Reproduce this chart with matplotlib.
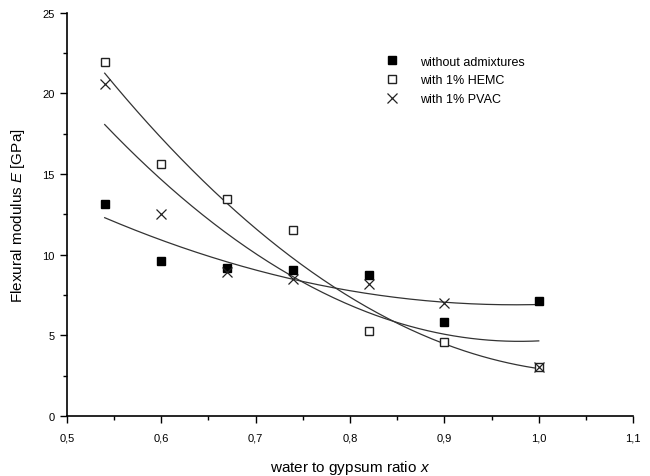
import numpy as np
import matplotlib
matplotlib.use("Agg")
import matplotlib.pyplot as plt
from matplotlib.ticker import MultipleLocator, FuncFormatter

plt.rcParams['font.family'] = ['Liberation Sans', 'DejaVu Sans']
plt.rcParams['mathtext.fontset'] = 'custom'
plt.rcParams['mathtext.rm'] = 'Liberation Sans'
plt.rcParams['mathtext.it'] = 'Liberation Sans:italic'

x_ratio = [0.54, 0.60, 0.67, 0.74, 0.82, 0.90, 1.00]
without_adm = [13.15, 9.6, 9.2, 9.05, 8.75, 5.85, 7.15]
hemc = [21.95, 15.65, 13.45, 11.55, 5.25, 4.6, 3.05]
pvac = [20.6, 12.5, 8.9, 8.5, 8.2, 7.0, 3.05]

labels = ["without admixtures", "with 1% HEMC", "with 1% PVAC"]

fig = plt.figure(figsize=(6.5, 4.77), dpi=100)
ax = fig.add_axes([0.103, 0.126, 0.871, 0.845])

xs = np.linspace(min(x_ratio), max(x_ratio), 200)
for ys in (without_adm, hemc, pvac):
    c = np.polyfit(x_ratio, ys, 2)
    ax.plot(xs, np.polyval(c, xs), color='#333333', lw=0.9)

h1, = ax.plot(x_ratio, without_adm, 's', color='black', ms=6, ls='none')
h2, = ax.plot(x_ratio, hemc, 's', mfc='white', mec='#222222', mew=1.0, ms=6, ls='none')
h3, = ax.plot(x_ratio, pvac, 'x', color='#222222', mew=0.9, ms=7.5, ls='none')

ax.legend([h1, h2, h3], labels, frameon=False, loc='upper left',
          bbox_to_anchor=(0.575, 0.905), bbox_transform=fig.transFigure,
          fontsize=9, handletextpad=1.6, labelspacing=0.55, handlelength=1.2)

ax.set_xlim(0.5, 1.1)
ax.set_ylim(0, 25)
ax.xaxis.set_major_locator(MultipleLocator(0.1))
ax.xaxis.set_minor_locator(MultipleLocator(0.05))
ax.yaxis.set_major_locator(MultipleLocator(5))
ax.yaxis.set_minor_locator(MultipleLocator(2.5))
ax.xaxis.set_major_formatter(FuncFormatter(lambda v, p: f"{v:.1f}".replace('.', ',')))
ax.yaxis.set_major_formatter(FuncFormatter(lambda v, p: f"{v:.0f}"))

for s in ('top', 'right'):
    ax.spines[s].set_visible(False)
for s in ('left', 'bottom'):
    ax.spines[s].set_linewidth(1.2)
ax.tick_params(which='major', direction='out', length=5, width=1, labelsize=8)
ax.tick_params(which='minor', direction='out', length=3, width=1)
ax.tick_params(axis='x', which='major', pad=7)
ax.tick_params(axis='y', which='major', pad=4)

ax.set_xlabel("water to gypsum ratio $x$", fontsize=11, labelpad=11)
ax.set_ylabel("Flexural modulus $E$ [GPa]", fontsize=11, labelpad=11)

fig.savefig("out.png", dpi=100)
